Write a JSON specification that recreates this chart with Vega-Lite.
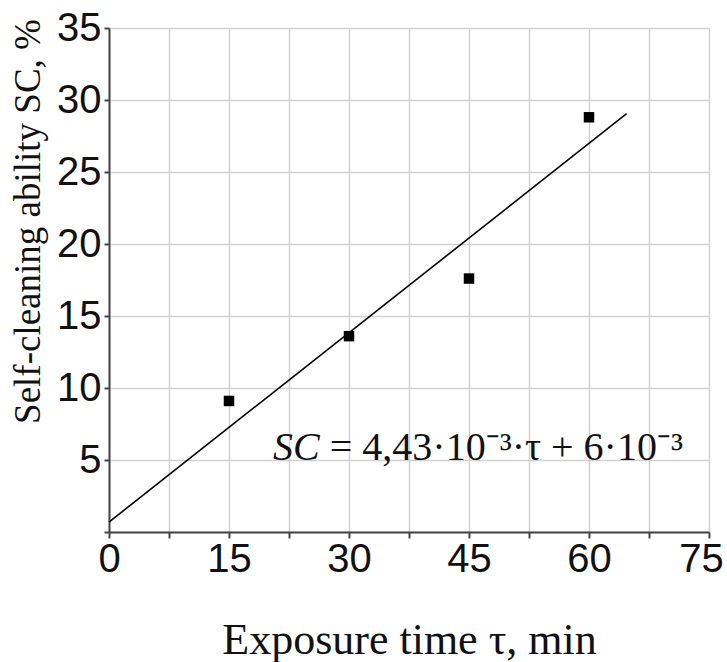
{
  "$schema": "https://vega.github.io/schema/vega-lite/v6.json",
  "width": 600,
  "height": 504,
  "autosize": {"type": "none"},
  "padding": {"left": 109, "top": 28, "right": 18, "bottom": 130},
  "background": "white",
  "config": {
    "view": {"stroke": null},
    "axis": {
      "domainColor": "#444444",
      "domainWidth": 2,
      "tickColor": "#444444",
      "tickWidth": 2,
      "gridColor": "#d2d2d2",
      "gridWidth": 1.5,
      "labelFont": "Liberation Sans",
      "labelFontSize": 40,
      "labelColor": "#111111",
      "labelFlush": false,
      "labelOverlap": false,
      "titleFont": "Liberation Serif",
      "titleFontWeight": "normal",
      "titleColor": "#111111"
    }
  },
  "layer": [
    {
      "data": {"values": [
        {"t": 15, "sc": 9.1},
        {"t": 30, "sc": 13.6},
        {"t": 45, "sc": 17.6},
        {"t": 60, "sc": 28.8}
      ]},
      "mark": {"type": "square", "size": 110, "color": "black", "opacity": 1},
      "encoding": {
        "x": {
          "field": "t", "type": "quantitative",
          "scale": {"domain": [0, 75], "nice": false, "zero": false},
          "axis": {
            "values": [0, 7.5, 15, 22.5, 30, 37.5, 45, 52.5, 60, 67.5, 75],
            "labelExpr": "datum.value % 15 === 0 ? datum.label : ''",
            "labelOffset": {"condition": {"test": "datum.value === 75", "value": -8}, "value": 0},
            "tickSize": 6,
            "labelPadding": 1,
            "title": "Exposure time τ, min",
            "titleFontSize": 44,
            "titleY": 121,
            "titleBaseline": "alphabetic"
          }
        },
        "y": {
          "field": "sc", "type": "quantitative",
          "scale": {"domain": [0, 35], "nice": false},
          "axis": {
            "values": [0, 5, 10, 15, 20, 25, 30, 35],
            "labelExpr": "datum.value === 0 ? '' : datum.label",
            "tickSize": 5,
            "labelPadding": 3,
            "title": "Self-cleaning ability SC, %",
            "titleFontSize": 37,
            "titleX": -62,
            "titleY": 193,
            "titleAlign": "center",
            "titleBaseline": "bottom"
          }
        }
      }
    },
    {
      "data": {"values": [
        {"t": 0, "sc": 0.69},
        {"t": 64.7, "sc": 29.05}
      ]},
      "mark": {"type": "line", "color": "black", "strokeWidth": 1.6},
      "encoding": {
        "x": {"field": "t", "type": "quantitative"},
        "y": {"field": "sc", "type": "quantitative"}
      }
    },
    {
      "data": {"values": [{"t": 20.5, "sc": 4.98, "label": "SC"}]},
      "mark": {"type": "text", "font": "Liberation Serif", "fontStyle": "italic", "fontSize": 40, "align": "left", "baseline": "alphabetic", "color": "#111111"},
      "encoding": {
        "x": {"field": "t", "type": "quantitative"},
        "y": {"field": "sc", "type": "quantitative"},
        "text": {"field": "label"}
      }
    },
    {
      "data": {"values": [{"t": 27.6, "sc": 4.98, "label": "= 4,43·10⁻³·τ + 6·10⁻³"}]},
      "mark": {"type": "text", "font": "Liberation Serif", "fontSize": 40, "align": "left", "baseline": "alphabetic", "color": "#111111"},
      "encoding": {
        "x": {"field": "t", "type": "quantitative"},
        "y": {"field": "sc", "type": "quantitative"},
        "text": {"field": "label"}
      }
    }
  ]
}
